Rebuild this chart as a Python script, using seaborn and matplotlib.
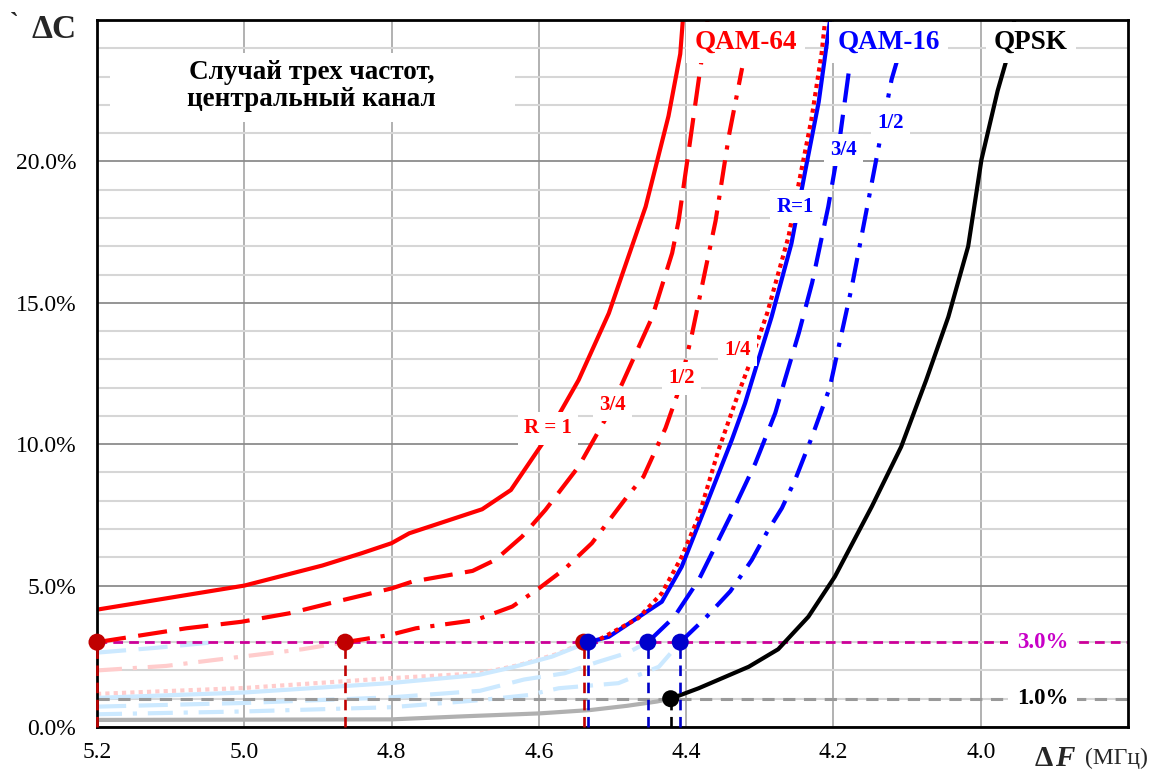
import numpy as np
import matplotlib
matplotlib.use('Agg')
import matplotlib.pyplot as plt
from matplotlib.patches import Rectangle
import seaborn as sns

# ---------------- data (ΔF in MHz, ΔC in %) ----------------
q64_r1_x = [5.2, 5.0, 4.894, 4.84, 4.8, 4.776, 4.677, 4.638, 4.595, 4.546, 4.505, 4.455, 4.424, 4.408, 4.403]
q64_r1_y = [4.15, 5.0, 5.71, 6.15, 6.5, 6.85, 7.7, 8.38, 10.03, 12.27, 14.63, 18.4, 21.6, 23.8, 25.5]

q64_34_x = [5.2, 5.079, 5.004, 4.939, 4.866, 4.8, 4.772, 4.69, 4.659, 4.623, 4.591, 4.546, 4.505, 4.446, 4.419, 4.41, 4.395, 4.381, 4.368]
q64_34_y = [3.0, 3.49, 3.72, 4.02, 4.49, 4.9, 5.14, 5.52, 5.91, 6.73, 7.68, 9.21, 11.1, 14.5, 16.76, 17.93, 20.65, 23.24, 25.5]

q64_12_x = [4.863, 4.803, 4.767, 4.686, 4.636, 4.6, 4.564, 4.528, 4.48, 4.458, 4.428, 4.41, 4.392, 4.36, 4.342, 4.324]
q64_12_y = [3.0, 3.25, 3.49, 3.78, 4.26, 4.9, 5.61, 6.5, 8.15, 8.85, 10.57, 11.9, 13.9, 17.9, 20.9, 23.3]

q64_14_x = [4.539, 4.519, 4.465, 4.433, 4.406, 4.383, 4.356, 4.329, 4.313, 4.29, 4.261, 4.248, 4.23, 4.216, 4.21]
q64_14_y = [3.0, 3.08, 3.85, 4.73, 6.02, 7.44, 9.8, 11.8, 12.9, 14.63, 17.34, 19.1, 21.47, 23.83, 25.3]

q16_r1_x = [4.533, 4.505, 4.433, 4.406, 4.379, 4.338, 4.32, 4.302, 4.284, 4.257, 4.238, 4.22, 4.203]
q16_r1_y = [3.0, 3.19, 4.43, 5.67, 7.44, 10.15, 11.45, 12.98, 14.5, 17.1, 19.7, 22.1, 25.3]

q16_34_x = [4.452, 4.416, 4.383, 4.338, 4.306, 4.279, 4.266, 4.247, 4.229, 4.207, 4.193, 4.18, 4.168]
q16_34_y = [3.0, 3.9, 5.2, 7.56, 9.33, 11.1, 12.27, 13.93, 15.7, 18.4, 20.5, 23.0, 25.3]

q16_12_x = [4.408, 4.374, 4.34, 4.311, 4.29, 4.27, 4.252, 4.229, 4.205, 4.175, 4.148, 4.121, 4.112]
q16_12_y = [3.0, 3.85, 4.8, 5.9, 6.9, 7.74, 8.74, 10.27, 12.0, 15.57, 19.23, 22.9, 23.7]

qpsk_x = [4.421, 4.383, 4.315, 4.275, 4.234, 4.198, 4.148, 4.108, 4.074, 4.044, 4.017, 3.999, 3.977, 3.963, 3.953]
qpsk_y = [1.0, 1.37, 2.13, 2.75, 3.9, 5.32, 7.79, 9.91, 12.27, 14.5, 17.0, 20.06, 22.5, 23.77, 25.2]

# faint continuations below the thresholds
f64_12_x = [5.2, 5.106, 5.047, 4.984, 4.921, 4.863]
f64_12_y = [2.0, 2.16, 2.35, 2.55, 2.75, 3.0]
f64_14_x = [5.2, 5.0, 4.8, 4.68, 4.627, 4.573, 4.539]
f64_14_y = [1.17, 1.38, 1.73, 1.9, 2.19, 2.6, 3.0]
f16_r1_x = [5.2, 5.0, 4.803, 4.682, 4.636, 4.582, 4.533]
f16_r1_y = [1.03, 1.22, 1.55, 1.84, 2.11, 2.49, 3.0]
f16_34_x = [5.2, 5.0, 4.8, 4.68, 4.62, 4.565, 4.52, 4.48, 4.452]
f16_34_y = [0.72, 0.85, 1.05, 1.28, 1.68, 1.9, 2.3, 2.62, 3.0]
f16_12_x = [5.2, 5.0, 4.8, 4.68, 4.614, 4.573, 4.492, 4.437, 4.408]
f16_12_y = [0.45, 0.55, 0.7, 0.95, 1.13, 1.37, 1.55, 2.13, 3.0]
f16_x_extra = [5.2, 5.12, 5.04]
f16_y_extra = [2.63, 2.8, 3.0]
fqpsk_x = [5.2, 4.8, 4.7, 4.6, 4.53, 4.48, 4.44, 4.421]
fqpsk_y = [0.25, 0.27, 0.38, 0.48, 0.6, 0.75, 0.9, 1.0]

# threshold crossing points
red_mx = [5.2, 4.863, 4.539]
red_my = [3.0, 3.0, 3.0]
blue_mx = [4.533, 4.452, 4.408]
blue_my = [3.0, 3.0, 3.0]
black_mx = [4.421]
black_my = [1.0]

x_ticks = [5.2, 5.0, 4.8, 4.6, 4.4, 4.2, 4.0]
x_tick_labels = ['5.2', '5.0', '4.8', '4.6', '4.4', '4.2', '4.0']
y_ticks = [0, 5, 10, 15, 20]
y_tick_labels = ['0.0%', '5.0%', '10.0%', '15.0%', '20.0%']

# ---------------- styling ----------------
sns.set_theme(style='white')
plt.rcParams['font.family'] = ['Liberation Serif', 'DejaVu Serif']

W, H = 1153, 771
fig = plt.figure(figsize=(W / 100, H / 100), dpi=100)
ax = fig.add_axes([97 / W, 1 - 727 / H, (1128 - 97) / W, (727 - 20) / H])
ax.set_xlim(5.2, 3.8)
ax.set_ylim(0, 25)

# grid
ax.set_xticks(x_ticks)
ax.set_xticklabels(x_tick_labels)
ax.set_yticks(y_ticks)
ax.set_yticklabels(y_tick_labels)
ax.set_yticks(np.arange(0, 26, 1), minor=True)
ax.grid(which='minor', axis='y', color='#d6d6d6', lw=1.5, zorder=0)
ax.grid(which='major', axis='y', color='#8c8c8c', lw=1.3, zorder=0.5)
ax.grid(which='major', axis='x', color='#ababab', lw=1.3, zorder=0.5)
ax.set_axisbelow(True)
ax.tick_params(which='both', length=0, labelsize=17, colors='black')
ax.tick_params(axis='x', pad=11)
ax.tick_params(axis='y', pad=15)
for s in ax.spines.values():
    s.set_color('black')
    s.set_linewidth(2.0)
    s.set_zorder(3.5)

RED = '#ff0000'
BLUE = '#0000ff'
PINK = '#ffcccc'
LBLUE = '#cce9ff'
DASH = (0, (7, 3))
DASHDOT = (0, (6, 2.6, 1, 2.6))
DOT = (0, (1, 1))


def draw(x, y, color, ls, lw=3.0, z=3):
    sns.lineplot(x=np.array(x), y=np.array(y), ax=ax, color=color, linestyle=ls,
                 linewidth=lw, sort=False, estimator=None, errorbar=None,
                 zorder=z, legend=False)


# faint lines
draw(f64_12_x, f64_12_y, PINK, DASHDOT, z=2)
draw(f64_14_x, f64_14_y, PINK, DOT, z=2)
draw(f16_r1_x, f16_r1_y, LBLUE, '-', z=2.1)
draw(f16_34_x, f16_34_y, LBLUE, DASH, z=2.1)
draw(f16_12_x, f16_12_y, LBLUE, DASHDOT, z=2.1)
draw(f16_x_extra, f16_y_extra, LBLUE, DASH, z=2.1)
draw(fqpsk_x, fqpsk_y, '#b0b0b0', '-', z=2.1)

# thresholds
ax.axhline(3.0, color='#cc0099', lw=2.0, linestyle=(0, (3.5, 2.2)), zorder=2.5)
ax.axhline(1.0, color='#999999', lw=2.2, linestyle=(0, (4, 2.8)), zorder=2.5)

# main curves
draw(q64_r1_x, q64_r1_y, RED, '-')
draw(q64_34_x, q64_34_y, RED, DASH)
draw(q64_12_x, q64_12_y, RED, DASHDOT)
draw(q16_r1_x, q16_r1_y, BLUE, '-', z=3.1)
draw(q64_14_x, q64_14_y, RED, DOT, z=3.2)
draw(q16_34_x, q16_34_y, BLUE, DASH)
draw(q16_12_x, q16_12_y, BLUE, DASHDOT)
draw(qpsk_x, qpsk_y, 'black', '-')

# drop lines
for mx, my, c in ([(x, y, '#c00000') for x, y in zip(red_mx, red_my)] +
                  [(x, y, '#0000c8') for x, y in zip(blue_mx, blue_my)] +
                  [(x, y, 'black') for x, y in zip(black_mx, black_my)]):
    ax.plot([mx, mx], [0, my], color=c, lw=1.9, linestyle=(0, (4, 2.5)),
            zorder=4, clip_on=False)

# markers
sns.scatterplot(x=red_mx, y=red_my, ax=ax, color='#c00000', s=150, edgecolor='none', zorder=6, clip_on=False)
sns.scatterplot(x=blue_mx, y=blue_my, ax=ax, color='#0000cc', s=150, edgecolor='none', zorder=6.1, clip_on=False)
sns.scatterplot(x=black_mx, y=black_my, ax=ax, color='black', s=150, edgecolor='none', zorder=6.1, clip_on=False)
ax.set_xlabel('')
ax.set_ylabel('')

# ---------------- annotations ----------------
wbox = dict(boxstyle='square,pad=0.3', fc='white', ec='none')
ax.text(4.319, 24.2, 'QAM-64', color=RED, fontsize=19.5, fontweight='bold', ha='center', va='center', bbox=wbox, zorder=7)
ax.text(4.125, 24.2, 'QAM-16', color=BLUE, fontsize=19.5, fontweight='bold', ha='center', va='center', bbox=wbox, zorder=7)
ax.text(3.932, 24.2, 'QPSK', color='black', fontsize=19.5, fontweight='bold', ha='center', va='center', bbox=wbox, zorder=7)

sbox = dict(boxstyle='square,pad=0.3', fc='white', ec='none')
for (tx, ty, t, c) in [(4.588, 10.56, 'R = 1', RED), (4.500, 11.39, '3/4', RED),
                       (4.406, 12.33, '1/2', RED), (4.330, 13.34, '1/4', RED),
                       (4.252, 18.4, 'R=1', BLUE), (4.186, 20.41, '3/4', BLUE),
                       (4.123, 21.35, '1/2', BLUE)]:
    ax.text(tx, ty, t, color=c, fontsize=15, fontweight='bold', ha='center', va='center', bbox=sbox, zorder=7)

ax.text(3.916, 3.0, '3.0%', color='#c800c8', fontsize=16.5, fontweight='bold', ha='center', va='center',
        bbox=dict(boxstyle='square,pad=0.4', fc='white', ec='none'), zorder=7)
ax.text(3.916, 1.0, '1.0%', color='black', fontsize=16.5, fontweight='bold', ha='center', va='center',
        bbox=dict(boxstyle='square,pad=0.4', fc='white', ec='none'), zorder=7)

# title box
ax.add_patch(Rectangle((5.183, 21.4), 4.6325 - 5.183, 23.84 - 21.4, facecolor='white', edgecolor='none', zorder=6.5))
ax.text(4.909, 22.67, 'Случай трех частот,\nцентральный канал', color='black', fontsize=19.5, fontweight='bold',
        ha='center', va='center', linespacing=1.1, zorder=7)

# axis titles
fig.text(10 / W, 1 - 24 / H, '`', fontsize=19, fontweight='bold', ha='left', va='center')
fig.text(31 / W, 1 - 30 / H, 'ΔC', fontsize=24, fontweight='bold', ha='left', va='center')
fig.text(1035 / W, 1 - 758 / H, 'Δ', fontsize=21, fontweight='bold', ha='left', va='center')
fig.text(1055 / W, 1 - 758 / H, 'F', fontsize=21, fontweight='bold', fontstyle='italic', ha='left', va='center')
fig.text(1085 / W, 1 - 758 / H, '(МГц)', fontsize=17, ha='left', va='center')

fig.savefig('out.png', dpi=100, facecolor='white')
